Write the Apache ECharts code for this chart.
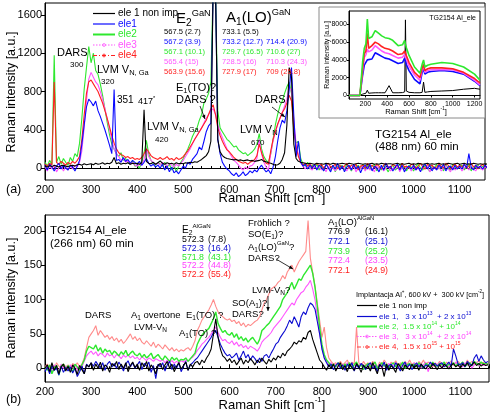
<!DOCTYPE html>
<html><head><meta charset="utf-8">
<script src="https://cdn.jsdelivr.net/npm/echarts@6/dist/echarts.min.js"></script>
<style>html,body{margin:0;padding:0;background:#fff}#c{width:500px;height:417px}</style>
</head><body><div id="c"></div>
<script>
// ---------- DATA ----------
// Raman shift grid (cm-1), shared by both main panels
const shift = [
200,205,210,215,220,225,230,235,240,245,
250,255,260,265,270,275,280,285,290,295,
300,305,310,315,320,325,330,335,340,345,
350,355,360,365,370,375,380,385,390,395,
400,405,410,415,420,425,430,435,440,445,
450,455,460,465,470,475,480,485,490,495,
500,505,510,515,520,525,530,535,540,545,
550,555,560,565,570,575,580,585,590,595,
600,605,610,615,620,625,630,635,640,645,
650,655,660,665,670,675,680,685,690,695,
700,705,710,715,720,725,730,735,740,745,
750,755,760,765,770,775,780,785,790,795,
800,805,810,815,820,825,830,835,840,845,
850,855,860,865,870,875,880,885,890,895,
900,905,910,915,920,925,930,935,940,945,
950,955,960,965,970,975,980,985,990,995,
1000,1005,1010,1015,1020,1025,1030,1035,1040,1045,
1050,1055,1060,1065,1070,1075,1080,1085,1090,1095,
1100,1105,1110,1115,1120,1125,1130,1135,1140,1145,
1150,1155,1160];

// (a) 488 nm excitation
const a_ele1nonimp = [
20,10,25,15,30,20,10,25,30,20,
15,25,30,20,35,40,30,45,35,40,
45,35,50,40,45,55,40,50,45,60,
110,45,55,40,50,45,55,40,50,45,
50,40,55,610,70,50,45,60,40,55,
75,50,40,55,45,50,40,55,45,50,
45,55,50,60,55,65,60,75,90,110,
130,170,280,1900,1900,300,170,130,110,100,
95,90,85,90,80,85,75,80,85,75,
80,70,75,80,90,70,65,55,50,40,
30,35,50,90,160,450,1050,950,250,100,
70,60,55,50,45,50,45,40,50,45,
45,40,50,45,40,50,45,40,45,50,
45,40,50,45,40,45,50,45,40,45,
40,45,50,40,45,40,50,45,40,45,
45,40,45,50,40,45,40,45,50,40,
45,40,50,45,40,45,50,40,45,40,
45,50,40,45,40,50,45,40,45,50,
40,45,50,40,45,40,50,45,40,45,
40,45,40];
const a_ele1 = [
30,-20,40,10,-30,20,50,-10,30,0,
-20,30,10,-30,20,80,250,450,640,720,
690,650,700,600,540,470,400,320,240,150,
820,80,90,60,110,70,90,50,80,60,
40,70,30,60,100,50,20,40,10,30,
0,40,-20,20,-40,10,-50,-30,-60,-20,
20,0,60,40,90,120,150,220,190,280,
380,440,470,1900,1900,300,150,60,20,-10,
-30,-60,-80,-50,-90,-70,-40,-80,-60,-30,
-50,-20,-40,0,30,-10,-40,-20,-60,10,
120,280,420,500,470,600,820,1050,550,120,
280,60,20,40,-10,30,0,40,-20,30,
10,-30,40,0,-40,30,-10,50,-20,20,
-40,10,30,-20,40,-10,20,-50,10,30,
-10,40,-30,20,0,-40,30,-20,50,0,
20,-30,10,40,-20,30,-40,0,20,-10,
30,-20,10,-40,20,40,-10,30,-30,10,
-20,30,0,40,-30,10,20,-20,30,-10,
20,-10,40,0,150,10,-20,30,0,20,
-10,30,0];
const a_ele2 = [
60,20,80,40,1180,60,120,40,100,60,
30,110,70,150,120,260,520,820,1050,1270,
1100,1200,1020,980,880,760,620,480,350,250,
200,150,120,160,80,100,60,40,70,20,
30,0,60,160,290,150,80,50,30,60,
40,20,60,10,40,-20,30,-40,20,60,
100,150,200,260,330,380,420,500,560,680,
720,780,900,1900,1900,600,420,380,340,300,
280,250,220,230,190,170,150,160,130,150,
170,200,250,360,200,120,80,60,150,300,
450,560,650,700,780,850,900,780,380,260,
280,100,40,20,60,-10,30,0,40,-20,
20,-30,40,10,-20,30,-40,20,0,30,
-20,40,10,-30,20,0,30,-10,40,-20,
30,-10,20,40,-30,10,-20,30,0,-40,
10,30,-20,0,40,-10,20,-30,30,10,
-30,20,40,0,-20,30,10,-40,20,0,
40,-10,20,-30,30,0,-20,40,10,-10,
20,30,-20,10,40,-30,20,0,30,-10,
20,0,10];
const a_ele3 = [
10,-30,20,-10,30,-40,0,20,-30,10,
-20,20,-10,30,10,60,180,420,700,930,
1000,950,900,870,800,720,620,520,400,300,
200,150,120,80,100,60,80,40,60,30,
20,40,30,90,200,120,80,60,40,50,
30,60,40,20,50,30,10,40,20,50,
80,120,160,200,250,300,340,380,420,470,
520,560,600,620,560,450,380,320,260,200,
160,120,80,60,30,0,-20,10,-10,20,
30,60,100,300,150,60,10,-20,150,280,
380,450,520,580,650,720,850,800,500,250,
140,60,20,-10,30,0,-20,20,-10,10,
-20,10,-40,20,-10,0,-30,10,-20,20,
0,-30,10,-20,20,-40,0,-10,20,-30,
10,-20,0,-40,20,-10,10,-30,0,20,
-30,0,-10,20,-40,10,-20,0,10,-30,
20,-20,0,-30,10,-10,20,-40,0,10,
-20,10,-30,0,20,-10,-40,10,-20,0,
10,-30,0,20,-20,10,-10,-30,20,0,
-20,10,0];
const a_ele4 = [
40,20,50,30,900,60,40,70,50,30,
60,40,70,50,80,120,300,550,780,900,
920,880,840,800,740,680,600,520,430,340,
260,200,160,140,130,110,120,100,110,90,
100,90,110,150,200,170,130,110,100,90,
110,90,100,120,90,100,80,110,90,100,
120,150,180,220,260,300,340,380,420,460,
500,560,620,660,560,420,340,280,230,190,
170,140,110,90,70,60,50,60,40,60,
70,90,130,250,160,90,50,40,180,300,
380,460,520,580,620,680,760,700,420,220,
120,60,30,50,20,40,10,30,50,20,
40,0,30,50,10,20,40,-10,30,10,
20,50,0,30,10,40,-20,20,30,0,
50,10,30,0,40,20,-10,30,50,10,
0,40,20,30,-10,50,10,20,0,40,
30,0,20,50,10,-10,40,20,30,0,
10,40,20,0,50,30,-10,20,40,10,
30,10,40,0,20,50,10,30,-10,20,
40,10,20];

// (b) 266 nm excitation
const b_ele1nonimp = [
0,5,-5,8,-3,4,-8,2,6,-4,
3,-6,5,0,-9,4,-2,-8,5,2,
8,-3,6,0,9,-4,5,2,-6,7,
3,10,-2,6,0,8,-5,4,9,1,
6,-3,8,2,10,-4,5,0,-8,4,
7,-2,5,10,0,6,-5,3,8,-1,
4,9,-3,6,2,8,10,5,12,8,
15,20,28,50,72,45,28,18,15,10,
14,8,12,5,10,15,6,12,8,14,
10,5,12,8,15,10,6,13,9,15,
12,18,15,22,18,25,28,32,38,35,
40,38,45,42,52,55,42,32,22,12,
8,2,-3,5,0,6,-4,3,8,-2,
4,-5,6,1,-3,7,2,-6,5,0,
3,-4,8,0,-8,5,2,-12,6,-3,
4,0,-6,7,2,-4,5,1,-2,6,
0,5,-3,6,2,-1,4,0,7,3,
-2,5,0,6,3,-1,4,7,2,5,
0,6,3,8,2,5,9,4,7,3,
6,4,5];
const b_ele1 = [
-5,2,-8,4,-3,0,-10,3,-6,1,
-4,2,-7,0,-12,-5,3,-8,6,2,
8,3,10,5,0,8,-3,6,10,2,
7,0,9,4,-4,6,11,2,8,0,
5,10,-2,7,3,9,-6,4,-15,6,
2,8,-4,5,10,-2,6,0,8,-5,
3,10,-3,5,8,12,15,20,25,30,
35,40,45,52,55,45,35,28,22,18,
20,15,18,22,12,18,25,15,20,12,
18,14,8,15,10,18,20,15,22,28,
35,38,45,50,55,62,70,65,75,68,
60,75,82,78,88,95,92,86,68,50,
28,15,8,2,6,-2,4,8,0,5,
-3,6,2,8,-4,5,0,7,3,-2,
5,8,0,4,-5,6,2,9,-3,4,
6,0,8,3,-4,5,9,1,6,-2,
4,8,2,6,0,5,3,9,4,7,
3,6,8,2,5,9,3,28,18,6,
5,8,2,10,6,4,15,20,10,18,
12,8,10];
const b_ele2 = [
2,-3,5,-8,0,4,-10,3,6,-2,
4,0,-5,6,2,-3,5,12,25,32,
30,28,34,25,30,22,28,24,26,20,
25,22,18,24,20,26,18,22,25,20,
18,22,16,20,15,18,22,14,17,20,
15,12,18,14,10,16,12,15,10,13,
12,15,10,14,18,22,35,42,48,52,
55,58,65,72,82,65,58,52,55,50,
48,52,45,50,42,46,40,44,38,42,
45,40,35,42,55,58,62,65,70,75,
80,85,90,100,105,110,118,125,115,122,
130,128,135,140,145,150,138,118,90,60,
35,20,12,8,4,6,2,8,5,0,
6,3,8,0,5,9,2,6,-2,4,
7,2,5,9,0,4,8,3,6,1,
5,8,2,6,4,9,0,5,7,3,
6,2,8,4,0,7,5,2,9,4,
3,7,5,9,2,6,4,8,3,7,
5,9,2,6,8,4,10,7,5,9,
6,8,5];
const b_ele3 = [
-3,4,0,-6,5,2,-4,6,0,3,
-2,5,0,6,-3,4,2,10,18,22,
25,20,24,18,22,20,16,22,18,20,
15,20,18,14,19,16,20,15,18,14,
16,12,17,14,11,15,13,10,14,12,
10,13,8,12,9,11,7,10,8,11,
9,12,10,14,16,20,26,30,35,38,
42,45,50,55,60,52,45,40,42,38,
36,40,34,38,32,35,30,33,28,32,
30,28,25,30,38,42,45,48,52,58,
62,66,70,75,80,85,90,95,92,100,
105,110,112,118,122,128,115,100,75,50,
30,15,10,5,8,3,6,2,5,0,
4,8,2,6,0,5,3,7,-2,4,
6,0,4,8,2,5,0,6,3,7,
2,5,8,0,6,3,7,1,5,4,
8,2,6,0,5,9,-5,4,7,2,
5,8,0,6,4,2,7,5,9,3,
6,2,8,4,7,0,5,9,3,6,
4,7,5];
const b_ele4 = [
2,6,0,5,-2,8,3,0,6,2,
5,0,7,3,8,2,6,15,30,45,
50,55,62,48,55,50,45,48,42,46,
40,44,38,42,36,40,45,50,42,46,
40,44,38,35,40,36,32,38,30,35,
32,28,34,30,26,30,25,28,24,27,
25,28,30,26,32,40,55,62,70,75,
80,85,92,100,90,82,78,75,72,70,
72,68,70,65,68,62,66,60,64,62,
65,68,70,75,85,95,100,108,115,118,
120,125,128,135,130,140,145,150,140,148,
155,160,165,170,215,160,140,120,95,70,
45,60,30,15,10,6,8,4,10,5,
8,12,4,9,6,60,8,3,10,5,
8,4,10,6,2,9,5,12,7,3,
9,6,11,4,8,2,10,6,12,5,
8,3,10,6,12,4,9,7,2,8,
5,10,7,3,9,6,11,4,8,10,
6,9,4,12,7,10,5,8,11,6,
9,5,7];

// inset: full range spectra (488 nm)
const insetShift = [50,100,150,165,175,190,205,218,230,260,290,300,320,350,380,417,450,500,540,560,567,575,600,650,700,720,733,745,770,800,900,1000,1100,1200,1250];
const in_ele1nonimp = [0,0,0,50,150,200,250,600,250,280,300,320,300,300,300,1100,300,300,320,400,8500,500,350,300,300,350,1500,350,400,450,500,550,700,800,700];
const in_ele1 = [0,0,0,0,2300,3400,3600,4000,3800,4100,4800,5000,4600,4400,4200,4100,3900,3600,3700,4200,3900,3500,2800,1800,1300,2600,3000,2400,2600,2700,2800,2700,2400,1600,1100];
const in_ele2 = [0,0,0,0,3800,5300,5800,8600,6400,6600,7300,7500,7000,6700,6500,6400,6200,5600,5700,6200,5800,5400,4500,3200,2500,3500,4000,3200,3400,3500,3700,3600,3200,2400,1700];
const in_ele3 = [0,0,0,0,2800,4300,4600,5200,4900,5100,5600,5700,5300,5000,4800,4700,4500,4200,4300,4600,4400,4100,3300,2300,1700,2900,3300,2600,2800,2900,2900,2900,2500,1700,1200];
const in_ele4 = [0,0,0,0,3000,4700,5000,7000,5300,5600,6000,6200,5800,5500,5300,5200,5000,4600,4700,5000,4800,4500,3700,2600,2000,3100,3500,2800,3000,3100,3100,3000,2600,1900,1400];

// tick labels
const xTicksMain = [200,300,400,500,600,700,800,900,1000,1100];
const yTicksA = [0,400,800,1200,1600];
const yTicksB = [0,50,100,150,200];
const xTicksInset = [200,400,600,800,1000,1200];
const yTicksInset = [0,2000,4000,6000,8000];

const seriesNames = ['ele 1 non imp','ele1','ele2','ele3','ele4'];

// ---------- STYLE ----------
const FF = '"Liberation Sans", Arial, sans-serif';
const colA = ['#000000','#0a0aff','#2ee82e','#ff55ff','#ff2020'];
const colB = ['#000000','#0a0ad0','#2ee82e','#ff55ff','#ff8a8a'];
const txtB = ['#000000','#0a0ad0','#2ee82e','#ff40ff','#ff2020'];

const mctx = document.createElement('canvas').getContext('2d');
function tw(t, s) { mctx.font = s + 'px ' + FF; return mctx.measureText(t).width; }
const G = [];
function rt(x, y, segs, size, color, anchor) {
  const parts = segs.map(s => {
    if (typeof s === 'string') return {t: s, fs: size, dy: 0};
    const fs = s.k === 'sub' ? size * 0.68 : size * 0.62;
    const dy = s.k === 'sub' ? size * 0.3 : -size * 0.38;
    return {t: s.t, fs, dy, c: s.c};
  });
  const total = parts.reduce((a, p) => a + tw(p.t, p.fs), 0);
  let cx = anchor === 'center' ? x - total / 2 : anchor === 'right' ? x - total : x;
  for (const p of parts) {
    G.push({type: 'text', x: cx, y: y + p.dy, z: 100, silent: true,
      style: {text: p.t, font: p.fs.toFixed(1) + 'px ' + FF, fill: p.c || color, align: 'left', verticalAlign: 'middle'}});
    cx += tw(p.t, p.fs);
  }
}
function vt(x, y, text, size) {
  G.push({type: 'text', x: x, y: y, rotation: Math.PI / 2, z: 100, silent: true,
    style: {text: text, font: size + 'px ' + FF, fill: '#000', align: 'center', verticalAlign: 'middle'}});
}
function arrow(x1, y1, x2, y2) {
  G.push({type: 'line', z: 100, silent: true, shape: {x1, y1, x2, y2}, style: {stroke: '#000', lineWidth: 0.8}});
  const a = Math.atan2(y2 - y1, x2 - x1), L = 4, W = 1.8;
  G.push({type: 'polygon', z: 100, silent: true, shape: {points: [[x2, y2],
    [x2 - L * Math.cos(a) + W * Math.sin(a), y2 - L * Math.sin(a) - W * Math.cos(a)],
    [x2 - L * Math.cos(a) - W * Math.sin(a), y2 - L * Math.sin(a) + W * Math.cos(a)]]}, style: {fill: '#000'}});
}
function sample(x1, x2, y, color, kind, w) {
  G.push({type: 'line', z: 100, silent: true, shape: {x1, y1: y, x2, y2: y},
    style: {stroke: color, lineWidth: w || 1, lineDash: kind === 'dot' ? [1.5, 1.5] : kind === 'dashdot' ? [4, 2, 1, 2] : null}});
  if (kind === 'dot' || kind === 'dashdot') {
    G.push({type: 'circle', z: 100, silent: true, shape: {cx: (x1 + x2) / 2, cy: y, r: 1.4}, style: {fill: 'none', stroke: color, lineWidth: 0.8}});
  }
}

// inset box background
G.push({type: 'rect', z: 5, silent: true, shape: {x: 319, y: 7, width: 166, height: 111}, style: {fill: '#fff', stroke: '#8a8a8a', lineWidth: 1}});

// ---- panel (a) annotations ----
const legY = [13.5, 24, 34.5, 45, 55.5];
const kinds = ['solid', 'solid', 'solid', 'dot', 'dashdot'];
for (let i = 0; i < 5; i++) {
  sample(93, 115, legY[i], colA[i], kinds[i], i === 2 ? 2 : 1.2);
  rt(118, legY[i], [seriesNames[i]], 10, colA[i], 'left');
}
rt(176, 19, ['E', {t: '2', k: 'sub'}, {t: 'GaN', k: 'sup'}], 15, '#000');
const e2a = ['567.5 (2.7)', '567.2 (3.9)', '567.1 (10.1)', '565.4 (15)', '563.9 (15.6)'];
const a1a = ['733.1 (5.5)', '733.2 (12.7)', '729.7 (16.5)', '728.5 (16)', '727.9 (17)'];
const a1b = ['', '714.4 (20.9)', '710.6 (27)', '710.3 (24.3)', '709 (25.8)'];
const rowsA = [32, 42, 52, 62, 71.5];
for (let i = 0; i < 5; i++) {
  rt(164, rowsA[i], [e2a[i]], 7.6, colA[i]);
  rt(222, rowsA[i], [a1a[i]], 7.6, colA[i]);
  if (a1b[i]) rt(266, rowsA[i], [a1b[i]], 7.6, colA[i]);
}
rt(226, 18, ['A', {t: '1', k: 'sub'}, '(LO)', {t: 'GaN', k: 'sup'}], 15, '#000');
rt(57, 53, ['DARS'], 11, '#000');
rt(70, 65, ['300'], 8, '#000');
rt(97, 70, ['LVM V', {t: 'N, Ga', k: 'sub'}], 11, '#000');
rt(101, 82, ['320'], 8, '#000');
rt(117, 100, ['351'], 10, '#000');
rt(138, 102, ['417', {t: '*', k: 'sup'}], 9, '#000');
rt(147, 127, ['LVM V', {t: 'N, Ga', k: 'sub'}], 11, '#000');
rt(155, 140, ['420'], 8, '#000');
rt(176, 88, ['E', {t: '1', k: 'sub'}, '(TO)?'], 11, '#000');
rt(176, 100, ['DARS ?'], 11, '#000');
arrow(200, 106, 205, 119);
rt(255, 100, ['DARS'], 11, '#000');
arrow(272, 107, 285, 117);
rt(240, 130, ['LVM V', {t: 'N', k: 'sub'}], 11, '#000');
rt(251, 143, ['670'], 8, '#000');
rt(375, 135, ['TG2154 Al_ele'], 11.5, '#000');
rt(375, 147, ['(488 nm) 60 min'], 11.5, '#000');
rt(6, 190, ['(a)'], 12.5, '#000');
vt(12, 92, 'Raman intensity [a.u.]', 12.5);
rt(272, 198, ['Raman Shift [cm', {t: '-1', k: 'sup'}, ']'], 13, '#000', 'center');
// inset texts
vt(327, 55, 'Raman intensity [a.u.]', 7);
rt(416, 112, ['Raman Shift [cm', {t: '-1', k: 'sup'}, ']'], 7.5, '#000', 'center');
rt(476, 18, ['TG2154 Al_ele'], 7, '#000', 'right');

// ---- panel (b) annotations ----
rt(50, 231, ['TG2154 Al_ele'], 11.5, '#000');
rt(50, 244, ['(266 nm) 60 min'], 11.5, '#000');
rt(182, 230, ['E', {t: '2', k: 'sub'}, {t: 'AlGaN', k: 'sup'}], 10, '#000');
const e2b = [['572.3', '(7.8)'], ['572.3', '(16.4)'], ['571.8', '(43.1)'], ['572.2', '(44.8)'], ['572.2', '(55.4)']];
const a1lo = [['776.9', '(16.1)'], ['772.1', '(25.1)'], ['773.9', '(25.2)'], ['772.4', '(23.5)'], ['772.1', '(24.9)']];
const rowsB1 = [240, 249, 257.5, 266, 275];
const rowsB2 = [232, 242, 251.5, 261, 270.5];
for (let i = 0; i < 5; i++) {
  rt(182, rowsB1[i], [e2b[i][0]], 8.8, txtB[i]);
  rt(208, rowsB1[i], [e2b[i][1]], 8.8, txtB[i]);
  rt(328, rowsB2[i], [a1lo[i][0]], 8.8, txtB[i]);
  rt(365, rowsB2[i], [a1lo[i][1]], 8.8, txtB[i]);
}
rt(328, 222, ['A', {t: '1', k: 'sub'}, '(LO)', {t: 'AlGaN', k: 'sup'}], 9.5, '#000');
rt(248, 223, ['Fröhlich ?'], 9.5, '#000');
rt(248, 234, ['SO(E', {t: '1', k: 'sub'}, ')?'], 9.5, '#000');
rt(248, 247, ['A', {t: '1', k: 'sub'}, '(LO)', {t: 'GaN', k: 'sup'}, '?'], 9.5, '#000');
rt(248, 258, ['DARS?'], 9.5, '#000');
arrow(276, 259, 293, 269);
rt(252, 290, ['LVM-V', {t: 'N', k: 'sub'}, '?'], 9.5, '#000');
arrow(268, 296, 268, 311);
rt(232, 303, ['SO(A', {t: '1', k: 'sub'}, ')?'], 9.5, '#000');
rt(232, 314, ['DARS?'], 9.5, '#000');
rt(186, 315, ['E', {t: '1', k: 'sub'}, '(TO) ?'], 9.5, '#000');
rt(179, 333, ['A', {t: '1', k: 'sub'}, '(TO) ?'], 9.5, '#000');
rt(85, 315, ['DARS'], 9.5, '#000');
rt(131, 315, ['A', {t: '1', k: 'sub'}, ' overtone'], 9.5, '#000');
rt(134, 327, ['LVM-V', {t: 'N', k: 'sub'}], 9.5, '#000');
rt(356, 295, ['Implantacja Al', {t: '+', k: 'sup'}, ', 600 kV +  300 kV [cm', {t: '-2', k: 'sup'}, ']'], 7.3, '#000');
const legB = [
  ['ele 1 non imp'],
  ['ele 1,   3 x 10', {t: '13', k: 'sup'}, '  + 2 x 10', {t: '13', k: 'sup'}],
  ['ele 2,  1.5 x 10', {t: '14', k: 'sup'}, ' + 10', {t: '14', k: 'sup'}],
  ['ele 3,   3 x 10', {t: '14', k: 'sup'}, '  + 2 x 10', {t: '14', k: 'sup'}],
  ['ele 4,  1.5 x 10', {t: '15', k: 'sup'}, ' + 10', {t: '15', k: 'sup'}]
];
const legBY = [305.5, 316.5, 326.5, 336.5, 347];
for (let i = 0; i < 5; i++) {
  sample(357, 377, legBY[i], i === 4 ? '#ff4040' : colB[i], kinds[i], i === 2 ? 2 : 1.2);
  rt(379, legBY[i], legB[i], 8, txtB[i]);
}
rt(6, 400, ['(b)'], 12.5, '#000');
vt(12, 298, 'Raman intensity [a.u.]', 12.5);
rt(272, 405, ['Raman Shift [cm', {t: '-1', k: 'sup'}, ']'], 13, '#000', 'center');

// ---------- CHART ----------
const chart = echarts.init(document.getElementById('c'), null, {renderer: 'canvas'});
const plain = v => String(v);
function xAx(gi, min, max, fs) {
  return {gridIndex: gi, type: 'value', min: min, max: max, interval: 100,
    axisLine: {lineStyle: {color: '#000', width: 1}}, axisTick: {inside: true, length: 4, lineStyle: {color: '#000'}},
    minorTick: {show: true, splitNumber: 5, length: 2, lineStyle: {color: '#000'}},
    axisLabel: {color: '#000', fontSize: fs, fontFamily: FF, margin: 4, customValues: xTicksMain, formatter: plain},
    splitLine: {show: false}};
}
function yAx(gi, min, max, ticks, fs) {
  return {gridIndex: gi, type: 'value', min: min, max: max,
    axisLine: {show: true, lineStyle: {color: '#000', width: 1}},
    axisTick: {show: true, inside: false, length: 4, customValues: ticks, lineStyle: {color: '#000'}},
    axisLabel: {color: '#000', fontSize: fs, fontFamily: FF, margin: 3, customValues: ticks, formatter: plain},
    splitLine: {show: false}};
}
const series = [];
const aData = [a_ele1nonimp, a_ele1, a_ele2, a_ele3, a_ele4];
const bData = [b_ele1nonimp, b_ele1, b_ele2, b_ele3, b_ele4];
const inData = [in_ele1nonimp, in_ele1, in_ele2, in_ele3, in_ele4];
const orderA = [2, 3, 4, 1, 0];
for (const i of orderA) {
  series.push({type: 'line', name: seriesNames[i], xAxisIndex: 0, yAxisIndex: 0, showSymbol: false, silent: true,
    data: shift.map((x, k) => [x, aData[i][k]]), lineStyle: {color: colA[i], width: 1.1}, z: 2 + (i === 0 ? 1 : 0)});
}
const orderB = [4, 3, 2, 1, 0];
for (const i of orderB) {
  series.push({type: 'line', name: seriesNames[i], xAxisIndex: 1, yAxisIndex: 1, showSymbol: false, silent: true,
    data: shift.map((x, k) => [x, bData[i][k]]), lineStyle: {color: colB[i], width: i === 2 ? 1.4 : 1.1}, z: 2});
}
for (const i of [0, 1, 3, 4, 2]) {
  series.push({type: 'line', name: 'inset ' + seriesNames[i], xAxisIndex: 2, yAxisIndex: 2, showSymbol: false, silent: true,
    data: insetShift.map((x, k) => [x, inData[i][k]]), lineStyle: {color: colA[i], width: i === 0 ? 1 : 1.6}, z: 10});
}

chart.setOption({
  animation: false,
  backgroundColor: '#fff',
  grid: [
    {left: 45, right: 15, top: 3, height: 177, show: true, borderColor: '#000', borderWidth: 1, backgroundColor: 'transparent'},
    {left: 45, right: 11, top: 215, height: 167, show: true, borderColor: '#000', borderWidth: 1, backgroundColor: 'transparent'},
    {left: 349, top: 11, width: 131, height: 88, show: true, borderColor: '#000', borderWidth: 1, backgroundColor: 'transparent', z: 8}
  ],
  xAxis: [
    xAx(0, 200, 1155, 11),
    xAx(1, 200, 1162, 11),
    {gridIndex: 2, type: 'value', min: 50, max: 1250, z: 9,
      axisLine: {lineStyle: {color: '#000'}}, axisTick: {inside: false, length: 2, customValues: xTicksInset, lineStyle: {color: '#000'}},
      axisLabel: {color: '#000', fontSize: 7, fontFamily: FF, margin: 2, customValues: xTicksInset, formatter: plain}, splitLine: {show: false}}
  ],
  yAxis: [
    yAx(0, -125, 1725, yTicksA, 11),
    yAx(1, -20, 223, yTicksB, 11),
    {gridIndex: 2, type: 'value', min: -400, max: 9500, z: 9,
      axisLine: {show: true, lineStyle: {color: '#000'}}, axisTick: {show: true, length: 2, customValues: yTicksInset, lineStyle: {color: '#000'}},
      axisLabel: {color: '#000', fontSize: 7, fontFamily: FF, margin: 2, customValues: yTicksInset, formatter: plain}, splitLine: {show: false}}
  ],
  series: series,
  graphic: {elements: G}
});
</script></body></html>
